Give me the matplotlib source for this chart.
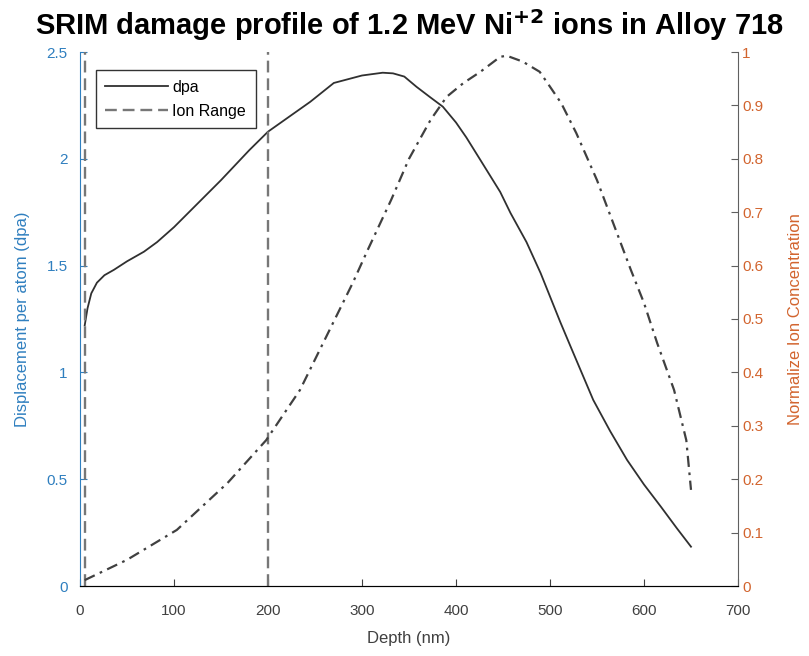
import matplotlib
matplotlib.use('Agg')
from matplotlib import pyplot as plt

plt.rcParams['font.family'] = ['Liberation Sans', 'DejaVu Sans']

# dpa profile (left axis)
dpa_depth = [5, 8, 12, 18, 26, 36, 50, 68, 82, 100, 125, 150, 180, 200, 245,
             270, 300, 322, 333, 345, 358, 372, 386, 400, 411, 426, 447, 458,
             475, 490, 511, 522, 546, 564, 582, 600, 618, 635, 650]
dpa_value = [1.22, 1.30, 1.37, 1.42, 1.455, 1.48, 1.52, 1.565, 1.61, 1.68,
             1.79, 1.90, 2.04, 2.127, 2.267, 2.355, 2.39, 2.403, 2.40, 2.385,
             2.337, 2.29, 2.244, 2.17, 2.10, 1.994, 1.845, 1.746, 1.61, 1.465,
             1.235, 1.12, 0.871, 0.725, 0.59, 0.475, 0.371, 0.27, 0.184]

# normalized ion concentration (right axis)
ion_depth = [5, 50, 103, 157, 198, 234, 262, 290, 306, 331, 350, 373, 390, 408,
             426, 447, 454, 471, 489, 500, 512, 528, 550, 586, 600, 614, 632,
             645, 650]
ion_value = [0.011, 0.049, 0.105, 0.193, 0.273, 0.367, 0.467, 0.567, 0.629,
             0.723, 0.80, 0.873, 0.916, 0.942, 0.963, 0.991, 0.993, 0.982,
             0.963, 0.935, 0.904, 0.848, 0.76, 0.592, 0.53, 0.455, 0.367,
             0.273, 0.18]

# ion range markers
ion_range = [5, 200]

LEFT_C = '#2f7fbf'
RIGHT_C = '#d2642e'
AX_C = '#404040'

fig = plt.figure(figsize=(8.09, 6.56), dpi=100)
ax1 = fig.add_axes([80 / 809, 1 - 586 / 656, 658 / 809, 534 / 656])
ax2 = ax1.twinx()

l1, = ax1.plot(dpa_depth, dpa_value, color='#303030', lw=1.3, label='dpa')
for i, xr in enumerate(ion_range):
    ln = ax1.axvline(xr, color='#777777', lw=1.7, ls=(0, (5, 2.5)),
                     label='Ion Range' if i == 0 else None)
    if i == 0:
        l2 = ln
ax2.plot(ion_depth, ion_value, color='#404040', lw=1.6, ls=(0, (5, 2.5, 1.2, 2.5)))

ax1.set_xlim(0, 700)
ax1.set_ylim(0, 2.5)
ax2.set_ylim(0, 1)
ax1.set_xticks(range(0, 701, 100))
ax1.set_yticks([0, 0.5, 1, 1.5, 2, 2.5])
ax1.set_yticklabels(['0', '0.5', '1', '1.5', '2', '2.5'])
ax2.set_yticks([i / 10 for i in range(11)])
ax2.set_yticklabels(['0'] + ['%.1f' % (i / 10) for i in range(1, 10)] + ['1'])

for ax in (ax1, ax2):
    ax.spines['top'].set_visible(False)
ax1.spines['right'].set_visible(False)
ax2.spines['left'].set_visible(False)
ax1.spines['left'].set_color(LEFT_C)
ax2.spines['right'].set_color('#606060')
ax1.spines['bottom'].set_color(AX_C)

ax1.tick_params(axis='x', direction='in', colors=AX_C, labelsize=11, length=5, pad=13)
ax1.tick_params(axis='y', direction='in', colors=LEFT_C, labelsize=11, length=5, pad=9)
ax2.tick_params(axis='y', direction='in', colors='#606060', labelcolor=RIGHT_C,
                labelsize=11, length=5, pad=3)

ax1.set_xlabel('Depth (nm)', fontsize=12, color=AX_C, labelpad=9)
ax1.set_ylabel('Displacement per atom (dpa)', fontsize=12, color=LEFT_C, labelpad=12)
ax2.set_ylabel('Normalize Ion Concentration', fontsize=12, color=RIGHT_C, labelpad=18)

ax1.set_title(r'SRIM damage profile of 1.2 MeV Ni$^{\mathbf{+2}}$ ions in Alloy 718',
              fontsize=21, fontweight='bold', pad=12)

leg = ax1.legend(handles=[l1, l2], loc='upper left', bbox_to_anchor=(0.024, 0.966),
                 borderaxespad=0, fancybox=False, edgecolor='black', fontsize=11.5,
                 handlelength=3.9, borderpad=0.6, labelspacing=0.55, handletextpad=0.3)
leg.get_frame().set_linewidth(1.0)
leg.set_zorder(10)

fig.savefig('out.png', dpi=100, facecolor='white')
